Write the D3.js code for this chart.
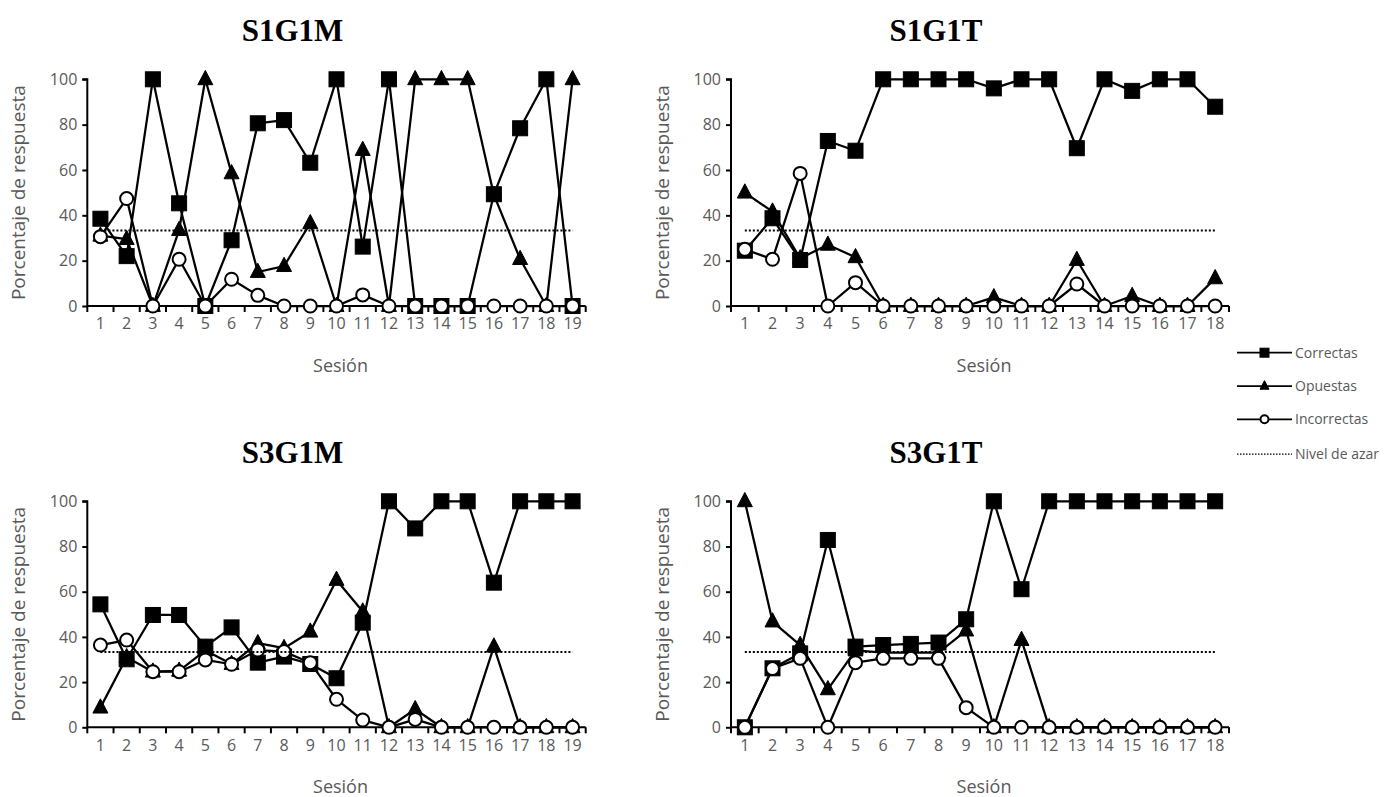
<!DOCTYPE html>
<html>
<head>
<meta charset="utf-8">
<script src="https://cdn.jsdelivr.net/npm/d3@7"></script>
<style>
  body { margin: 0; background: #fff; }
  svg { display: block; }
</style>
</head>
<body>
<svg id="chart" width="1391" height="797"></svg>
<script>
// ---------- DATA ----------
const sessions19 = ["1","2","3","4","5","6","7","8","9","10","11","12","13","14","15","16","17","18","19"];
const sessions18 = ["1","2","3","4","5","6","7","8","9","10","11","12","13","14","15","16","17","18"];
const yTicks = [0, 20, 40, 60, 80, 100];
const chanceLevel = 33.3;

const seriesNames = ["Correctas", "Opuestas", "Incorrectas", "Nivel de azar"];
const panelTitles = ["S1G1M", "S1G1T", "S3G1M", "S3G1T"];

// S1G1M
const s1g1mCorrectas   = [38.5, 22, 100, 45.3, 0, 29, 80.6, 82, 63.2, 100, 26.2, 100, 0, 0, 0, 49.3, 78.4, 100, 0];
const s1g1mOpuestas    = [31, 29.5, 0, 33.5, 100, 58.5, 15, 17.6, 36.5, 0, 68.8, 0, 100, 100, 100, 49, 20.7, 0, 100];
const s1g1mIncorrectas = [30.6, 47.4, 0, 20.6, 0, 11.8, 4.7, 0, 0, 0, 4.9, 0, 0, 0, 0, 0, 0, 0, 0];

// S1G1T
const s1g1tCorrectas   = [24.4, 38.7, 20.3, 72.8, 68.5, 100, 100, 100, 100, 96, 100, 100, 69.6, 100, 94.9, 100, 100, 87.9];
const s1g1tOpuestas    = [50, 41.6, 21, 27, 21.5, 0, 0, 0, 0, 3.8, 0, 0, 20.3, 0, 4.4, 0, 0, 12.2];
const s1g1tIncorrectas = [25, 20.6, 58.5, 0, 10.3, 0, 0, 0, 0, 0, 0, 0, 9.7, 0, 0, 0, 0, 0];

// S3G1M
const s3g1mCorrectas   = [54.4, 30.1, 49.7, 49.7, 35.7, 44.2, 28.6, 31.3, 28, 21.7, 46.3, 100, 88, 100, 100, 64, 100, 100, 100];
const s3g1mOpuestas    = [8.7, 31, 24.6, 25, 34, 28, 37.2, 35, 42.3, 65.2, 51.2, 0, 8, 0, 0, 35.7, 0, 0, 0];
const s3g1mIncorrectas = [36.4, 38.6, 24.6, 24.6, 29.8, 27.9, 34.2, 33.5, 28.6, 12.4, 3.2, 0, 3.5, 0, 0, 0, 0, 0, 0];

// S3G1T
const s3g1tCorrectas   = [0, 26.1, 32.7, 82.9, 35.7, 36.4, 36.9, 37.5, 47.8, 100, 61.1, 100, 100, 100, 100, 100, 100, 100];
const s3g1tOpuestas    = [100, 46.8, 36.4, 16.8, 34, 33, 33, 33, 42.8, 0, 38.6, 0, 0, 0, 0, 0, 0, 0];
const s3g1tIncorrectas = [0, 26, 30.5, 0, 28.6, 30.5, 30.5, 30.5, 8.7, 0, 0, 0, 0, 0, 0, 0, 0, 0];

// ---------- LAYOUT ----------
const panels = [
  { title: panelTitles[0], cats: sessions19, x0: 87.3, x1: 585.7, yTop: 79.3, yBot: 306,   titleX: 292.5, titleY: 41,
    data: [s1g1mCorrectas, s1g1mOpuestas, s1g1mIncorrectas] },
  { title: panelTitles[1], cats: sessions18, x0: 731,  x1: 1229,  yTop: 79.3, yBot: 306,   titleX: 936, titleY: 41,
    data: [s1g1tCorrectas, s1g1tOpuestas, s1g1tIncorrectas] },
  { title: panelTitles[2], cats: sessions19, x0: 87.3, x1: 585.7, yTop: 501.3, yBot: 727.3, titleX: 292.5, titleY: 463,
    data: [s3g1mCorrectas, s3g1mOpuestas, s3g1mIncorrectas] },
  { title: panelTitles[3], cats: sessions18, x0: 731,  x1: 1229,  yTop: 501.3, yBot: 727.3, titleX: 936, titleY: 463,
    data: [s3g1tCorrectas, s3g1tOpuestas, s3g1tIncorrectas] }
];

const FONT = "'Open Sans', 'Liberation Sans', sans-serif";
const GRAY = "#595959";
const svg = d3.select("#chart");

const markerFns = {
  square: (g, cx, cy, s) => g.append("rect").attr("x", cx - s/2).attr("y", cy - s/2).attr("width", s).attr("height", s)
              .attr("fill", "#000").attr("stroke", "#000").attr("stroke-width", 1),
  triangle: (g, cx, cy, s) => {
    const h = s * 0.95;
    g.append("path").attr("d", `M${cx},${cy - h*0.62} L${cx + s/2},${cy + h*0.38} L${cx - s/2},${cy + h*0.38} Z`)
      .attr("fill", "#000").attr("stroke", "#000").attr("stroke-width", 1);
  },
  circle: (g, cx, cy, s) => g.append("circle").attr("cx", cx).attr("cy", cy).attr("r", s/2)
              .attr("fill", "#fff").attr("stroke", "#000").attr("stroke-width", 2)
};
const seriesMarkers = ["square", "triangle", "circle"];
const markerSizes = [15, 15, 13];

panels.forEach(p => {
  const x = d3.scaleBand().domain(p.cats).range([p.x0, p.x1]).padding(0);
  const y = d3.scaleLinear().domain([0, 100]).range([p.yBot, p.yTop]);
  const g = svg.append("g");
  const cx = c => x(c) + x.bandwidth() / 2;

  // title
  g.append("text").attr("x", p.titleX).attr("y", p.titleY)
    .attr("text-anchor", "middle")
    .attr("font-family", "'Liberation Serif', 'Times New Roman', serif")
    .attr("font-weight", "bold").attr("font-size", 31).attr("fill", "#000")
    .text(p.title);

  // y axis
  const yAxis = d3.axisLeft(y).tickValues(yTicks).tickSize(5).tickPadding(5);
  const ya = g.append("g").attr("transform", `translate(${p.x0},0)`).call(yAxis);
  ya.select(".domain").attr("stroke", "#000").attr("stroke-width", 2).attr("d", `M-5,${p.yTop}H0V${p.yBot}`);
  ya.selectAll(".tick line").attr("stroke", "#000").attr("stroke-width", 2);
  ya.selectAll(".tick text").attr("font-family", FONT).attr("font-size", 16).attr("fill", GRAY);

  // x axis (labels)
  const xAxis = d3.axisBottom(x).tickSize(0).tickPadding(12);
  const xa = g.append("g").attr("transform", `translate(0,${p.yBot})`).call(xAxis);
  xa.select(".domain").remove();
  xa.selectAll(".tick text").attr("font-family", FONT).attr("font-size", 16).attr("fill", GRAY);
  // x axis line and between-category tick marks
  g.append("line").attr("x1", p.x0).attr("x2", p.x1).attr("y1", p.yBot).attr("y2", p.yBot)
    .attr("stroke", "#000").attr("stroke-width", 2);
  const edges = p.cats.map(c => x(c)).concat([x(p.cats[p.cats.length - 1]) + x.bandwidth()]);
  g.selectAll(".xt").data(edges).enter().append("line")
    .attr("x1", d => d).attr("x2", d => d).attr("y1", p.yBot).attr("y2", p.yBot + 6)
    .attr("stroke", "#000").attr("stroke-width", 2);

  // axis titles
  g.append("text").attr("x", (p.x0 + p.x1) / 2 + 4).attr("y", p.yBot + 66)
    .attr("text-anchor", "middle").attr("font-family", FONT).attr("font-size", 18).attr("fill", GRAY)
    .text("Sesión");
  g.append("text")
    .attr("transform", `translate(${p.x0 - 62},${(p.yTop + p.yBot) / 2}) rotate(-90)`)
    .attr("text-anchor", "middle").attr("font-family", FONT).attr("font-size", 19).attr("fill", GRAY)
    .text("Porcentaje de respuesta");

  // series
  const line = d3.line().x((d, i) => cx(p.cats[i])).y(d => y(d));
  p.data.forEach((vals, si) => {
    const sg = g.append("g");
    sg.append("path").datum(vals).attr("d", line).attr("fill", "none")
      .attr("stroke", "#000").attr("stroke-width", 2.25).attr("stroke-linejoin", "round");
    vals.forEach((v, i) => markerFns[seriesMarkers[si]](sg, cx(p.cats[i]), y(v), markerSizes[si]));
  });

  // chance level
  g.append("line")
    .attr("x1", cx(p.cats[0])).attr("x2", cx(p.cats[p.cats.length - 1]))
    .attr("y1", y(chanceLevel)).attr("y2", y(chanceLevel))
    .attr("stroke", "#000").attr("stroke-width", 2).attr("stroke-dasharray", "2,2");
});

// ---------- LEGEND ----------
const legendY = [352.7, 386, 419.3, 454];
const lg = svg.append("g");
seriesNames.forEach((name, i) => {
  const yy = legendY[i];
  if (i < 3) {
    lg.append("line").attr("x1", 1237).attr("x2", 1292).attr("y1", yy).attr("y2", yy)
      .attr("stroke", "#000").attr("stroke-width", 1.75);
    markerFns[seriesMarkers[i]](lg, 1264.5, yy, i === 2 ? 8 : 9);
  } else {
    lg.append("line").attr("x1", 1237).attr("x2", 1292).attr("y1", yy).attr("y2", yy)
      .attr("stroke", "#000").attr("stroke-width", 1.25).attr("stroke-dasharray", "1.5,1.5");
  }
  lg.append("text").attr("x", 1295).attr("y", yy + 5)
    .attr("font-family", FONT).attr("font-size", 14).attr("fill", GRAY).text(name);
});
</script>
</body>
</html>
